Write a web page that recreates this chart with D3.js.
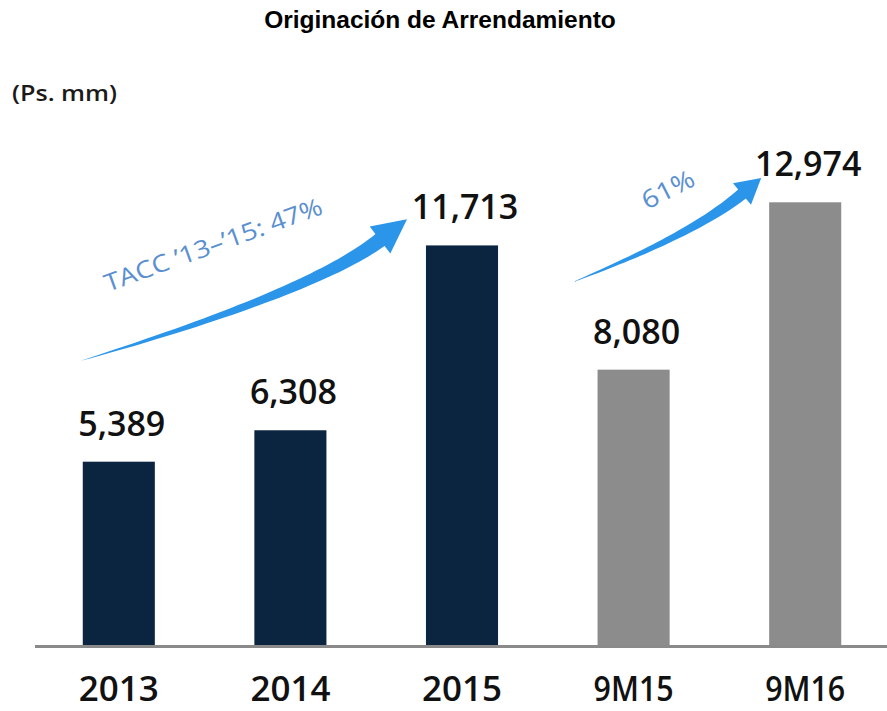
<!DOCTYPE html>
<html>
<head>
<meta charset="utf-8">
<script src="https://cdn.jsdelivr.net/npm/d3@7"></script>
<style>
  body { margin: 0; background: #fff; }
  svg { display: block; }
</style>
</head>
<body>
<div id="chart"></div>
<script>

// data
var categories = ["2013", "2014", "2015", "9M15", "9M16"];
var values = [5389, 6308, 11713, 8080, 12974];
var groups = ["year", "year", "year", "ytd", "ytd"];
var growth_labels = ["TACC \u201913\u2013\u201915: 47%", "61%"];

var width = 887,
    height = 711,
    baseline = 646;

var colors = { year: "#0b2541", ytd: "#8c8c8c" };

var svg = d3.select("#chart").append("svg")
    .attr("width", width)
    .attr("height", height);

var x = d3.scaleBand()
    .domain(categories)
    .range([33, 891])
    .paddingInner(0.58)
    .paddingOuter(0.29);

var y = d3.scaleLinear()
    .domain([0, 14000])
    .range([baseline, baseline - 14000 * 0.0342]);

var data = categories.map(function(c, i) {
  return { cat: c, value: values[i], group: groups[i] };
});

// title
svg.append("text")
    .attr("x", 440)
    .attr("y", 28)
    .attr("text-anchor", "middle")
    .style("font-family", "Liberation Sans, Arial, sans-serif")
    .style("font-weight", "bold")
    .style("font-size", "24.5px")
    .style("fill", "#000")
    .text("Originación de Arrendamiento");

// unit label
svg.append("text")
    .attr("x", 12)
    .attr("y", 101)
    .attr("textLength", 105)
    .attr("lengthAdjust", "spacingAndGlyphs")
    .style("font-family", "Open Sans, sans-serif")
    .style("font-weight", 600)
    .style("font-size", "22px")
    .style("fill", "#1a1a1a")
    .text("(Ps. mm)");

// bars
svg.selectAll("rect.bar")
    .data(data)
  .enter().append("rect")
    .attr("class", "bar")
    .attr("x", function(d) { return x(d.cat); })
    .attr("y", function(d) { return y(d.value); })
    .attr("width", x.bandwidth())
    .attr("height", function(d) { return baseline - y(d.value); })
    .style("fill", function(d) { return colors[d.group]; });

// baseline
svg.append("line")
    .attr("x1", 35)
    .attr("x2", width)
    .attr("y1", baseline + 0.5)
    .attr("y2", baseline + 0.5)
    .style("stroke", "#8a8a8a")
    .style("stroke-width", 3);

// value labels
svg.selectAll("text.value")
    .data(data)
  .enter().append("text")
    .attr("class", "value")
    .attr("x", function(d) { return x(d.cat) + x.bandwidth() / 2 + 3; })
    .attr("y", function(d) { return y(d.value) - 26; })
    .attr("text-anchor", "middle")
    .style("font-family", "Open Sans, sans-serif")
    .style("font-weight", 600)
    .style("font-size", "34px")
    .style("fill", "#111")
    .text(function(d) { return d3.format(",")(d.value); });

// category labels
var xAxis = d3.axisBottom(x).tickSize(0).tickPadding(0);

var axis_g = svg.append("g")
    .attr("transform", "translate(0," + baseline + ")")
    .call(xAxis);

axis_g.select(".domain").remove();

axis_g.selectAll("text")
    .attr("y", 55)
    .attr("dy", 0)
    .attr("textLength", 80)
    .attr("lengthAdjust", "spacingAndGlyphs")
    .style("font-family", "Open Sans, sans-serif")
    .style("font-weight", 600)
    .style("font-size", "35px")
    .style("fill", "#111");

// tapered curved arrow: quadratic centerline from p0 (control c) to p1,
// width grows from 0 to w, then a triangular head of length hl
function arrow_path(p0, c, p1, w, hl, hw) {
  var n = 40, left = [], right = [];
  for (var i = 0; i <= n; i++) {
    var t = i / n, mt = 1 - t;
    var px = mt * mt * p0[0] + 2 * mt * t * c[0] + t * t * p1[0],
        py = mt * mt * p0[1] + 2 * mt * t * c[1] + t * t * p1[1];
    var tx = 2 * mt * (c[0] - p0[0]) + 2 * t * (p1[0] - c[0]),
        ty = 2 * mt * (c[1] - p0[1]) + 2 * t * (p1[1] - c[1]);
    var len = Math.sqrt(tx * tx + ty * ty);
    var nx = -ty / len, ny = tx / len;
    var hw_t = (w / 2) * Math.pow(t, 0.8);
    left.push([px + nx * hw_t, py + ny * hw_t]);
    right.push([px - nx * hw_t, py - ny * hw_t]);
  }
  var ex = p1[0] - c[0], ey = p1[1] - c[1];
  var el = Math.sqrt(ex * ex + ey * ey);
  ex /= el; ey /= el;
  var enx = -ey, eny = ex;
  var head = [
    [p1[0] + enx * hw, p1[1] + eny * hw],
    [p1[0] + ex * hl, p1[1] + ey * hl],
    [p1[0] - enx * hw, p1[1] - eny * hw]
  ];
  var pts = left.concat(head).concat(right.reverse());
  return "M" + pts.map(function(p) { return p[0].toFixed(1) + "," + p[1].toFixed(1); }).join("L") + "Z";
}

var arrows = [
  { p0: [80, 361], c: [312, 292], p1: [380, 240], w: 15, hl: 34, hw: 17 },
  { p0: [573, 282], c: [694, 234], p1: [742, 194], w: 12, hl: 25, hw: 14 }
];

svg.selectAll("path.arrow")
    .data(arrows)
  .enter().append("path")
    .attr("class", "arrow")
    .attr("d", function(d) { return arrow_path(d.p0, d.c, d.p1, d.w, d.hl, d.hw); })
    .style("fill", "#2b95ea");

// growth annotations
var notes = [
  { x: 108, y: 292, angle: -20, len: 230, size: 24 },
  { x: 647, y: 210, angle: -27, len: 56, size: 25 }
];

svg.selectAll("text.growth")
    .data(notes)
  .enter().append("text")
    .attr("class", "growth")
    .attr("transform", function(d) { return "translate(" + d.x + "," + d.y + ") rotate(" + d.angle + ")"; })
    .attr("textLength", function(d) { return d.len; })
    .attr("lengthAdjust", "spacingAndGlyphs")
    .style("font-family", "Open Sans, sans-serif")
    .style("font-size", function(d) { return d.size + "px"; })
    .style("fill", "#5a8fd0")
    .text(function(d, i) { return growth_labels[i]; });

</script>
</body>
</html>
